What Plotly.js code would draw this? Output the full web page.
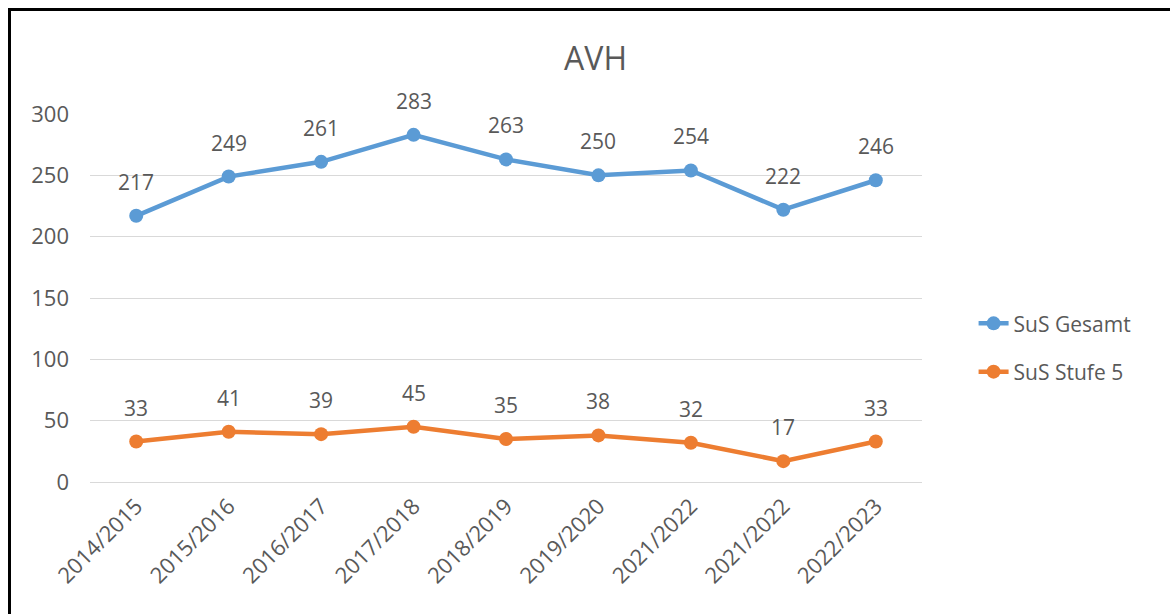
<!DOCTYPE html>
<html>
<head>
<meta charset="utf-8">
<script src="https://cdn.plot.ly/plotly-3.0.1.min.js"></script>
<style>
html,body{margin:0;padding:0;background:#fff;overflow:hidden;}
#frame{position:absolute;left:8px;top:8px;width:1170px;height:620px;border-left:3px solid #000;border-top:3px solid #000;box-sizing:border-box;pointer-events:none;z-index:5;}
#chart{position:absolute;left:0;top:0;width:1170px;height:614px;}
</style>
</head>
<body>
<div id="chart"></div>
<div id="frame"></div>
<script>
const categories = ["2014/2015","2015/2016","2016/2017","2017/2018","2018/2019","2019/2020","2021/2022","2021/2022","2022/2023"];
const susGesamt = [217,249,261,283,263,250,254,222,246];
const susStufe5 = [33,41,39,45,35,38,32,17,33];
const yTicks = [0,50,100,150,200,250,300];

const idx = categories.map((c,i)=>i);
const font = "'Open Sans', 'Liberation Sans', sans-serif";
const grey = "#595959";

const traces = [
  {x: idx, y: susGesamt, name: "SuS Gesamt", type: "scatter", mode: "lines+markers", legendgroup: "a",
   line: {color: "#5B9BD5", width: 4.5}, marker: {color: "#5B9BD5", size: 14}},
  {x: idx, y: susStufe5, name: "SuS Stufe 5", type: "scatter", mode: "lines+markers", legendgroup: "b",
   line: {color: "#ED7D31", width: 4.5}, marker: {color: "#ED7D31", size: 14}}
];

const annotations = [];
[susGesamt, susStufe5].forEach(series => {
  series.forEach((v,i) => {
    annotations.push({x: i, y: v, xref: "x", yref: "y", text: String(v), showarrow: false,
      yshift: 34, font: {family: font, size: 21, color: grey}});
  });
});

const layout = {
  width: 1170, height: 614,
  margin: {l: 90, r: 248, t: 114, b: 132},
  paper_bgcolor: "#fff", plot_bgcolor: "#fff",
  font: {family: font, color: grey},
  title: {text: "AVH", x: 0.509, xref: "container", xanchor: "center", y: 0.905, yref: "container", yanchor: "middle",
    font: {family: font, size: 32, color: grey}},
  xaxis: {range: [-0.5, 8.5], tickmode: "array", tickvals: idx, ticktext: categories,
    tickangle: -45, showgrid: false, zeroline: false, showline: false, ticks: "",
    ticklabelstandoff: 6,
    tickfont: {family: font, size: 22, color: grey}, fixedrange: true},
  yaxis: {range: [0, 300], tickmode: "array", tickvals: yTicks, showgrid: true, gridcolor: "#D9D9D9", gridwidth: 1,
    zeroline: true, zerolinecolor: "#D9D9D9", zerolinewidth: 1, showline: false, ticks: "",
    ticklabelstandoff: 20,
    tickfont: {family: font, size: 22, color: grey}, fixedrange: true},
  legend: {x: 1.062, y: 0.365, xanchor: "left", yanchor: "middle", traceorder: "grouped", tracegroupgap: 18,
    font: {family: font, size: 21, color: grey}, bgcolor: "rgba(0,0,0,0)"},
  annotations: annotations,
  showlegend: true
};

Plotly.newPlot("chart", traces, layout, {displayModeBar: false, staticPlot: true});
</script>
</body>
</html>
